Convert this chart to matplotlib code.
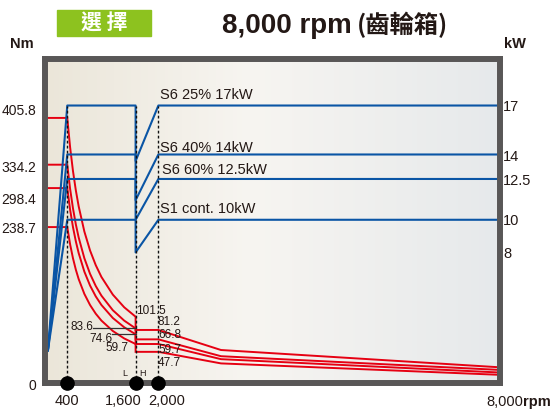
import numpy as np
import matplotlib
matplotlib.use("Agg")
import matplotlib.pyplot as plt
import matplotlib.transforms as mtransforms
from matplotlib.colors import LinearSegmentedColormap
from matplotlib.patches import Rectangle

plt.rcParams['font.family'] = ['Liberation Sans', 'DejaVu Sans']

# ---------------- data ----------------
duty_labels = ["S6 25% 17kW", "S6 40% 14kW", "S6 60% 12.5kW", "S1 cont. 10kW"]
power_kw = [17, 14, 12.5, 10]            # rated power per duty
power_drop_kw = [13.6, 11.2, 10.0, 8.0]  # power at 1,600 rpm (low gear end)
start_rpm = 60
start_kw = 2.0

rpm_key = [400, 1600, 2000, 8000]
rpm_key_labels = ["400", "1,600", "2,000", "8,000"]

# torque curves (Nm), 400 -> 1,600 rpm segment
rpm_low = [400, 450, 500, 550, 600, 700, 800, 900, 1000, 1200, 1400, 1600]
torque_low = [
    [405.8, 360.7, 324.6, 295.1, 270.5, 231.9, 202.9, 180.4, 162.3, 135.3, 115.9, 101.5],
    [334.2, 297.1, 267.4, 243.0, 222.8, 191.0, 167.1, 148.5, 133.7, 111.4, 95.5, 83.6],
    [298.4, 265.2, 238.7, 217.0, 198.9, 170.5, 149.2, 132.6, 119.4, 99.5, 85.3, 74.6],
    [238.7, 212.2, 191.0, 173.6, 159.1, 136.4, 119.4, 106.1, 95.5, 79.6, 68.2, 59.7],
]
# torque curves (Nm), 2,000 -> 8,000 rpm segment
rpm_high = [2000, 3100, 8000]
torque_high = [
    [81.2, 50.5, 24.0],
    [66.8, 41.0, 20.0],
    [59.7, 36.5, 16.0],
    [47.7, 30.0, 12.5],
]
right_tick_kw = [17, 14, 12.5, 10, 8]

# ---------------- styling ----------------
RED = '#e60012'
BLUE = '#0a55a5'
DARK = '#231815'
FRAME = '#595757'
W, H = 555, 413

fig = plt.figure(figsize=(W / 100, H / 100), dpi=100)
ax = fig.add_axes([44.5 / W, (H - 383) / H, (500 - 44.5) / W, (383 - 59) / H])
ax2 = ax.twinx()
ax.set_xlim(0, 8000)
ax.set_ylim(0, 496)
ax2.set_ylim(0, 19.85)
for a in (ax, ax2):
    a.set_xticks([])
    a.set_yticks([])
for s in ax.spines.values():
    s.set_visible(False)
for s in ax2.spines.values():
    s.set_color(FRAME)
    s.set_linewidth(4.3)
    s.set_zorder(10)

# background gradient
cmap = LinearSegmentedColormap.from_list(
    'bg', [(0.0, '#ebe6d9'), (0.45, '#f7f5f1'), (1.0, '#e6e9eb')])
grad = np.linspace(0, 1, 256).reshape(1, -1)
ax.imshow(grad, cmap=cmap, aspect='auto', extent=(0, 8000, 0, 496), zorder=0)

# red torque curves
for tl, th in zip(torque_low, torque_high):
    xs = [start_rpm] + rpm_low + [1600] + rpm_high
    ys = [tl[0]] + tl + [th[0]] + th
    ax.plot(xs, ys, color=RED, lw=1.4, zorder=3, solid_joinstyle='miter')

# blue power curves
for p, pd in zip(power_kw, power_drop_kw):
    xs = [start_rpm, rpm_key[0], rpm_key[1], rpm_key[1], rpm_key[2], rpm_key[3]]
    ys = [start_kw, p, p, pd, p, p]
    ax2.plot(xs, ys, color=BLUE, lw=1.5, zorder=3)

# dotted verticals and dots
for r in rpm_key[:3]:
    ax2.plot([r, r], [0, max(power_kw)], color='#111111', lw=1.0,
             ls=(0, (2, 1.6)), zorder=4)
ax2.plot(rpm_key[:3], [0, 0, 0], 'o', color='black', ms=9.5, clip_on=False, zorder=12)

# leader lines for 83.6 and 74.6
ax.plot([850, 1600], [torque_low[1][-1]] * 2, color='#333333', lw=0.9, zorder=4)
ax.plot([1185, 1600], [torque_low[2][-1]] * 2, color='#333333', lw=0.9, zorder=4)

# ---------------- texts (pixel positions, y from top) ----------------
T = mtransforms.Affine2D().scale(1, -1).translate(0, H)

def txt(x, y, s, **kw):
    kw.setdefault('color', DARK)
    kw.setdefault('va', 'center')
    fig.text(x, y, s, transform=T, **kw)

# header
fig.patches.append(Rectangle((57, 10), 94, 26, transform=T, color='#8dc21f', zorder=1))
txt(104, 23, "選 擇", ha='center', color='white', fontsize=15,
    family=['Noto Sans CJK TC', 'DejaVu Sans'], fontweight='bold')
txt(222, 33, "8,000 rpm", ha='left', va='baseline', fontsize=20, fontweight='bold')
txt(357, 33, "(齒輪箱)", ha='left', va='baseline', fontsize=17.5, fontweight='bold',
    family=['Noto Sans CJK TC', 'DejaVu Sans'])
txt(22, 44, "Nm", ha='center', fontsize=10.5, fontweight='bold')
txt(515, 44, "kW", ha='center', fontsize=10.5, fontweight='bold')

# left torque labels
left_y = [111, 168, 200, 229]
for t, y in zip(torque_low, left_y):
    txt(36, y, f"{t[0]:.1f}", ha='right', fontsize=10)
txt(36, 386, "0", ha='right', fontsize=10)

# right power labels
right_y = [107, 157, 181, 221, 254]
for k, y in zip(right_tick_kw, right_y):
    txt(503, y, f"{k:g}", ha='left', fontsize=10.5)

# duty labels
duty_xy = [(160, 95), (160, 148), (162, 170), (160, 209)]
for s, (x, y) in zip(duty_labels, duty_xy):
    txt(x, y, s, ha='left', fontsize=10.5)

# value labels at 1,600 and 2,000 rpm
txt(136, 311, f"{torque_low[0][-1]:.1f}", ha='left', fontsize=8.5)
txt(93, 327, f"{torque_low[1][-1]:.1f}", ha='right', fontsize=8.5)
txt(112, 339, f"{torque_low[2][-1]:.1f}", ha='right', fontsize=8.5)
txt(128.5, 348, f"{torque_low[3][-1]:.1f}", ha='right', fontsize=8.5)
hi_y = [322, 335, 350, 363]
for th, y in zip(torque_high, hi_y):
    txt(158, y, f"{th[0]:.1f}", ha='left', fontsize=8.5)
txt(125, 373, "L", ha='center', fontsize=6.5)
txt(143, 373, "H", ha='center', fontsize=6.5)

# bottom rpm labels
txt(66.5, 401, rpm_key_labels[0], ha='center', fontsize=10.5)
txt(123.5, 401, rpm_key_labels[1], ha='center', fontsize=10.5)
txt(166.5, 401, rpm_key_labels[2], ha='center', fontsize=10.5)
txt(523, 402, rpm_key_labels[3], ha='right', fontsize=10.5)
txt(523, 402, "rpm", ha='left', fontsize=10.5, fontweight='bold')

fig.savefig("out.png", dpi=100)
